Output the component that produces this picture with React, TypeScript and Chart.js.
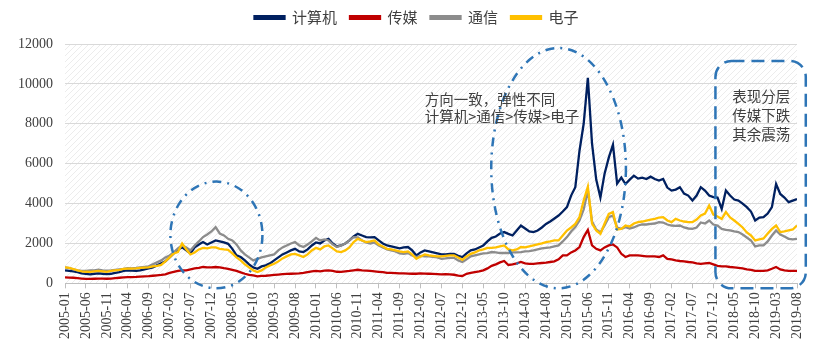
import React, { useEffect, useRef } from "react";
import { Chart, registerables } from "chart.js";
Chart.register(...registerables);

const seriesNames = ["计算机", "传媒", "通信", "电子"];
const seriesColors = ["#002060", "#C00000", "#8C8C8C", "#FFC000"];

// monthly, 2005-01 .. 2019-08
const computer = [
  650, 620, 600, 560, 500, 470, 450, 480, 500, 480, 460, 480,
  520, 560, 620, 650, 640, 630, 650, 700, 750, 800, 900, 1000,
  1100, 1300, 1500, 1700, 1800, 1650, 1500, 1800, 1950, 2070, 1950, 2050,
  2150, 2100, 2050, 1980, 1730, 1400, 1320, 1150, 950, 800, 730, 850,
  900, 1000, 1150, 1300, 1450, 1550, 1650, 1730, 1600, 1570, 1700, 1900,
  2050, 2000, 2150, 2230, 2000, 1850, 1900, 2000, 2150, 2350, 2480, 2400,
  2320, 2300, 2320, 2150, 2000, 1900, 1850, 1800, 1750, 1800, 1820, 1650,
  1400, 1550, 1650, 1600, 1550, 1500, 1450, 1450, 1480, 1480, 1380, 1320,
  1500, 1650, 1700, 1800, 1900, 2100, 2280, 2350, 2500, 2570, 2480, 2400,
  2650, 2900, 2750, 2600, 2570, 2650, 2800, 2980, 3100, 3250, 3400, 3600,
  3820, 4400, 4820, 6650, 8000, 10300, 7000, 5200, 4300, 5500, 6300, 6950,
  5000, 5300, 4980, 5200, 5400, 5250, 5300, 5230, 5350, 5230, 5150, 5230,
  4800, 4650, 4700, 4820, 4500, 4400, 4150, 4400, 4820, 4650, 4400, 4320,
  4300, 3730, 4650, 4400, 4200, 4150, 4000, 3820, 3600, 3150, 3300, 3320,
  3500, 3820, 4980, 4480, 4300, 4070, 4150, 4230,
];
const media = [
  300, 290, 280, 260, 240, 220, 220, 230, 240, 240, 230, 240,
  260, 280, 300, 310, 310, 320, 340, 350, 360, 380, 400, 420,
  450, 520, 570, 620, 650, 650, 700, 750, 780, 820, 800, 800,
  820, 800, 760, 730, 680, 620, 550, 480, 420, 400, 350, 370,
  380, 400, 420, 440, 460, 470, 480, 490, 500, 520, 560, 600,
  620, 600, 640, 650, 620, 580, 570, 600, 620, 650, 680, 650,
  640, 620, 600, 580, 560, 520, 520, 510, 500, 500, 490, 480,
  480, 500, 490, 480, 470, 460, 450, 460, 450, 430, 390, 370,
  480, 520, 560, 600, 650, 750, 880, 950, 1050, 1120, 920, 950,
  1000, 1070, 1000, 980, 980, 1000, 1020, 1040, 1070, 1100, 1200, 1400,
  1400, 1550, 1650, 1820, 2320, 2680, 1900, 1730, 1650, 1800, 1900, 1950,
  1800, 1480, 1320, 1400, 1400, 1400, 1380, 1350, 1350, 1350, 1320, 1400,
  1230, 1200, 1150, 1120, 1100, 1070, 1050, 1000, 980, 1000, 1020, 950,
  880, 850, 850, 820, 800, 780, 750, 700, 680, 620, 620, 620,
  650, 730, 820, 700, 650, 620, 620, 620,
];
const telecom = [
  800, 760, 700, 650, 620, 620, 650, 650, 680, 650, 640, 650,
  680, 700, 720, 760, 750, 770, 800, 820, 850, 950, 1050, 1150,
  1300, 1400, 1550, 1750, 1900, 1800, 1650, 1900, 2100, 2320, 2450, 2600,
  2820, 2500, 2400, 2230, 2150, 1950, 1650, 1450, 1300, 1150, 1230, 1300,
  1350, 1400, 1450, 1650, 1800, 1900, 2000, 2070, 1900, 1820, 1950, 2100,
  2280, 2150, 2200, 2150, 1950, 1820, 1900, 2000, 2150, 2320, 2300, 2150,
  2050, 2000, 2050, 1900, 1800, 1700, 1650, 1600, 1500, 1480, 1520, 1400,
  1320, 1380, 1350, 1350, 1330, 1300, 1230, 1250, 1280, 1280, 1150, 1070,
  1200, 1350, 1400, 1450, 1500, 1520, 1570, 1550, 1520, 1520, 1520, 1550,
  1550, 1570, 1600, 1620, 1650, 1700, 1750, 1780, 1800, 1850, 1900, 2100,
  2320, 2600, 2820, 3150, 3700, 4650, 3100, 2700, 2550, 2900, 3320, 3400,
  2800, 2730, 2820, 2750, 2800, 2900, 2950, 2950, 2980, 3000, 3070, 3050,
  2950, 2900, 2880, 2900, 2800, 2750, 2730, 2800, 3050, 3000, 3150, 2950,
  2900, 2730, 2680, 2650, 2600, 2570, 2450, 2300, 2150, 1850, 1900, 1900,
  2100, 2400, 2650, 2450, 2350, 2230, 2200, 2230,
];
const electronics = [
  800, 780, 720, 650, 600, 580, 570, 600, 620, 600, 580, 620,
  650, 680, 720, 740, 740, 750, 780, 790, 800, 850, 880, 920,
  1100, 1300, 1500, 1570, 2000, 1700, 1450, 1550, 1700, 1780, 1750, 1800,
  1800, 1730, 1700, 1680, 1500, 1300, 1150, 950, 800, 650, 570, 650,
  800, 900, 980, 1100, 1250, 1350, 1450, 1480, 1400, 1320, 1450, 1650,
  1780, 1700, 1850, 1900, 1750, 1600, 1570, 1650, 1800, 2070, 2230, 2150,
  2070, 2100, 2150, 1950, 1850, 1730, 1700, 1650, 1600, 1570, 1600, 1450,
  1230, 1350, 1450, 1400, 1380, 1350, 1350, 1380, 1400, 1400, 1300, 1180,
  1350, 1480, 1550, 1650, 1700, 1780, 1780, 1800, 1850, 1900, 1700, 1650,
  1700, 1820, 1800, 1850, 1900, 1950, 2000, 2070, 2100, 2150, 2150, 2400,
  2650, 2800, 2980, 3320, 4150, 4850, 3000, 2650, 2480, 3000, 3480, 3570,
  2700, 2730, 2900, 2850, 3000, 3070, 3100, 3150, 3200, 3230, 3300, 3320,
  3150, 3070, 3230, 3150, 3100, 3070, 3070, 3200, 3400, 3500, 3900, 3450,
  3350, 3230, 3570, 3300, 3150, 2980, 2800, 2550, 2400, 2150, 2200, 2250,
  2500, 2730, 2900, 2570, 2600, 2650, 2700, 2900,
];

const tickLabels = [
  "2005-01", "2005-06", "2005-11", "2006-04", "2006-09", "2007-02", "2007-07", "2007-12",
  "2008-05", "2008-10", "2009-03", "2009-08", "2010-01", "2010-06", "2010-11", "2011-04",
  "2011-09", "2012-02", "2012-07", "2012-12", "2013-05", "2013-10", "2014-03", "2014-08",
  "2015-01", "2015-06", "2015-11", "2016-04", "2016-09", "2017-02", "2017-07", "2017-12",
  "2018-05", "2018-10", "2019-03", "2019-08",
];
const tickStep = 5; // months between shown labels
const yMax = 12000;
const yStep = 2000;

const note1 = ["方向一致，弹性不同", "计算机>通信>传媒>电子"];
const note2 = ["表现分层", "传媒下跌", "其余震荡"];

const W = 827;
const H = 353;
const ANN = "#2E75B6";
const SERIF = "Liberation Serif";
const CJK = "Noto Sans CJK SC";

const hatchPlugin = {
  id: "hatch",
  beforeDraw(chart: any) {
    const { ctx, chartArea: a } = chart;
    ctx.save();
    ctx.beginPath();
    ctx.rect(a.left, a.top, a.right - a.left, a.bottom - a.top);
    ctx.clip();
    ctx.strokeStyle = "#ececec";
    ctx.lineWidth = 1;
    const h = a.bottom - a.top;
    for (let x = a.left - h; x < a.right + 10; x += 6) {
      ctx.beginPath();
      ctx.moveTo(x, a.bottom);
      ctx.lineTo(x + h, a.top);
      ctx.stroke();
    }
    ctx.restore();
  },
};

const legendTweak = {
  id: "legendTweak",
  beforeUpdate(chart: any) {
    const lg = chart.legend;
    if (lg && !lg.__patched) {
      lg.__patched = true;
      const fit = lg.fit;
      lg.fit = function () {
        fit.call(this);
        this.height += 9;
      };
      const draw = lg.draw;
      lg.draw = function () {
        const c = this.ctx;
        c.save();
        c.translate(15, 0);
        draw.call(this);
        c.restore();
      };
    }
  },
};

const annotationPlugin = {
  id: "notes",
  afterDatasetsDraw(chart: any) {
    const { ctx } = chart;
    const xs = chart.scales.x;
    const ys = chart.scales.y;
    const px = (v: number) => xs.getPixelForValue(v);
    const py = (v: number) => ys.getPixelForValue(v);
    ctx.save();
    ctx.strokeStyle = ANN;
    ctx.lineWidth = 2.5;
    ctx.setLineDash([9, 6, 2, 6]);
    let cx = px(36.2), cy = py(2425);
    ctx.beginPath();
    ctx.ellipse(cx, cy, px(36.2 + 11) - cx, cy - py(2425 + 2675), 0, 0, Math.PI * 2);
    ctx.stroke();
    cx = px(118); cy = py(5775);
    ctx.beginPath();
    ctx.ellipse(cx, cy, px(118 + 16.1) - cx, cy - py(5775 + 6025), 0, 0, Math.PI * 2);
    ctx.stroke();
    ctx.setLineDash([13, 7]);
    const l = px(155.5), r = px(177.1), t = py(11150), b = py(-250);
    const rad = 16;
    ctx.beginPath();
    ctx.moveTo(l + rad, t);
    ctx.lineTo(r - rad, t);
    ctx.arcTo(r, t, r, t + rad, rad);
    ctx.lineTo(r, b - rad);
    ctx.arcTo(r, b, r - rad, b, rad);
    ctx.lineTo(l + rad, b);
    ctx.arcTo(l, b, l, b - rad, rad);
    ctx.lineTo(l, t + rad);
    ctx.arcTo(l, t, l + rad, t, rad);
    ctx.closePath();
    ctx.stroke();
    ctx.setLineDash([]);
    ctx.fillStyle = "#404040";
    ctx.font = "14.5px 'Noto Sans CJK SC'";
    ctx.textBaseline = "middle";
    ctx.textAlign = "left";
    ctx.fillText(note1[0], px(86), py(9200));
    ctx.fillText(note1[1], px(86), py(8350));
    note2.forEach((s, i) => ctx.fillText(s, px(159.5), py(9360 - i * 955)));
    ctx.restore();
  },
};

export default function App() {
  const ref = useRef<HTMLCanvasElement>(null);
  useEffect(() => {
    const series = [computer, media, telecom, electronics];
    const chart = new Chart(ref.current!, {
      type: "line",
      data: {
        datasets: series.map((arr, k) => ({
          label: seriesNames[k],
          data: arr.map((v, i) => ({ x: i, y: v })),
          borderColor: seriesColors[k],
          backgroundColor: seriesColors[k],
          borderWidth: 2.3,
          pointRadius: 0,
          tension: 0,
          order: 4 - k,
        })),
      },
      options: {
        responsive: false,
        animation: false,
        layout: { padding: { left: 6, right: 30, top: -3, bottom: 10 } },
        plugins: {
          tooltip: { enabled: false },
          legend: {
            display: true,
            position: "top",
            labels: {
              sort: (a: any, b: any) => a.datasetIndex - b.datasetIndex,
              boxWidth: 30,
              boxHeight: 2.5,
              padding: 13,
              color: "#404040",
              font: { family: CJK, size: 15 },
            },
          },
        },
        scales: {
          x: {
            type: "linear",
            min: 0,
            max: tickStep * (tickLabels.length - 1),
            ticks: {
              stepSize: tickStep,
              autoSkip: false,
              maxRotation: 90,
              minRotation: 90,
              padding: 4,
              color: "#404040",
              font: { family: SERIF, size: 14 },
              callback: (v: any) => tickLabels[Math.round(Number(v) / tickStep)] ?? "",
            },
            grid: { drawOnChartArea: false, drawTicks: true, tickLength: 5, color: "#bfbfbf" },
            border: { display: true, color: "#bfbfbf" },
          },
          y: {
            min: 0,
            max: yMax,
            ticks: {
              stepSize: yStep,
              padding: 12,
              color: "#404040",
              font: { family: SERIF, size: 14 },
              callback: (v: any) => String(v),
            },
            grid: { color: "#d9d9d9", drawTicks: false },
            border: { display: false },
          },
        },
      },
      plugins: [hatchPlugin, legendTweak, annotationPlugin],
    });
    return () => chart.destroy();
  }, []);
  return (
    <div style={{ position: "absolute", left: 0, top: 0, width: W, height: H, background: "#fff" }}>
      <canvas ref={ref} width={W} height={H} style={{ width: W, height: H, display: "block" }} />
    </div>
  );
}
